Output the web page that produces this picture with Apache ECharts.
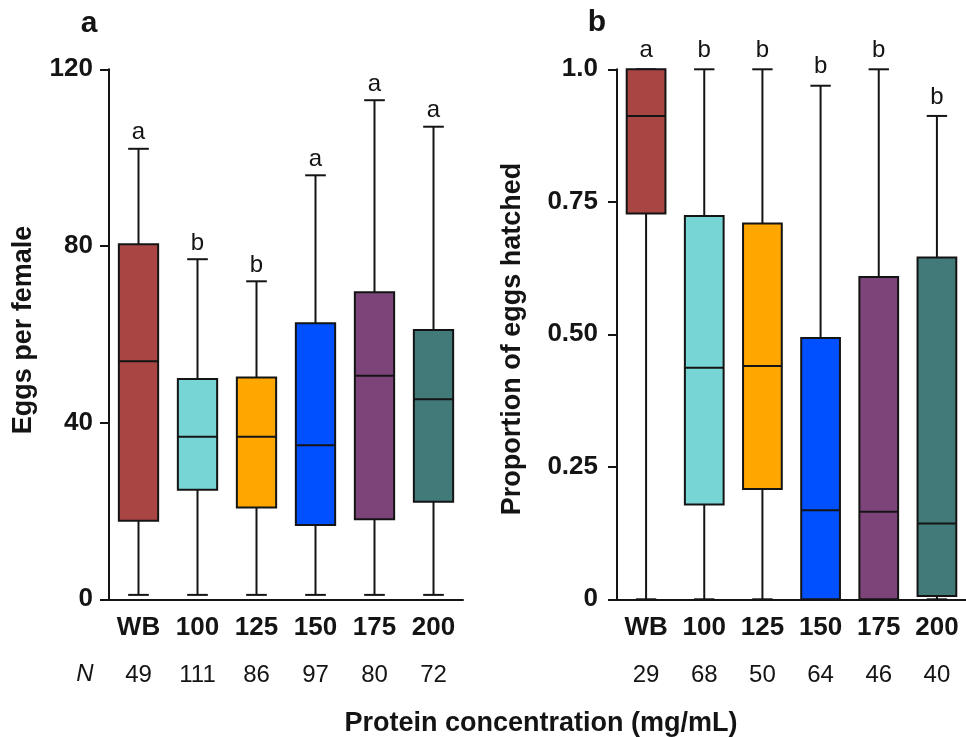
<!DOCTYPE html>
<html lang="en">
<head>
    <meta charset="UTF-8">
    <title>Eggs per female / proportion hatched</title>
    <script src="https://cdn.jsdelivr.net/npm/echarts@6.0.0/dist/echarts.min.js"></script>
    <style>html,body{margin:0;padding:0;background:#fff;}</style>
</head>
<body>
    <div id="main" style="width: 966px;height: 737px"></div>
    <script type="text/javascript">
        var categories = ['WB', '100', '125', '150', '175', '200'];
        var colors = ['#A94643', '#77D5D5', '#FFA600', '#0050FF', '#7C4478', '#427979'];

        // panel a - eggs per female (min, Q1, median, Q3, max)
        var eggsMin = [1, 1, 1, 1, 1, 1];
        var eggsQ1 = [17.8, 24.8, 20.8, 16.8, 18.1, 22.1];
        var eggsMedian = [53.9, 36.8, 36.8, 34.9, 50.6, 45.3];
        var eggsQ3 = [80.4, 49.9, 50.2, 62.5, 69.5, 61.0];
        var eggsMax = [102, 77, 72, 96, 113, 107];
        var eggsLetters = ['a', 'b', 'b', 'a', 'a', 'a'];
        var eggsN = [49, 111, 86, 97, 80, 72];
        var eggsTicks = ['0', '40', '80', '120'];

        // panel b - proportion of eggs hatched
        var hatchMin = [0, 0, 0, 0, 0, 0];
        var hatchQ1 = [0.728, 0.179, 0.208, 0, 0, 0.006];
        var hatchMedian = [0.912, 0.437, 0.440, 0.168, 0.165, 0.143];
        var hatchQ3 = [1, 0.723, 0.709, 0.493, 0.608, 0.645];
        var hatchMax = [1, 1, 1, 0.969, 1, 0.912];
        var hatchLetters = ['a', 'b', 'b', 'b', 'b', 'b'];
        var hatchN = [29, 68, 50, 64, 46, 40];
        var hatchTicks = ['0', '0.25', '0.50', '0.75', '1.0'];

        var font = 'Liberation Sans, Arial, sans-serif';
        var ink = '#141414';

        function boxData(mn, q1, md, q3, mx) {
            return categories.map(function (c, i) {
                return [i, mn[i], q1[i], md[i], q3[i], mx[i]];
            });
        }

        function makeRender(letters, gap) {
            return function (params, api) {
                var x = api.value(0);
                var pMin = api.coord([x, api.value(1)]);
                var pQ1 = api.coord([x, api.value(2)]);
                var pMed = api.coord([x, api.value(3)]);
                var pQ3 = api.coord([x, api.value(4)]);
                var pMax = api.coord([x, api.value(5)]);
                var band = api.size([1, 0])[0];
                var half = band * 0.333;
                var cap = band * 0.175;
                var cx = pMin[0];
                var ls = {stroke: ink, lineWidth: 2};
                return {
                    type: 'group',
                    children: [
                        {type: 'line', shape: {x1: cx, y1: pMin[1], x2: cx, y2: pQ1[1]}, style: ls},
                        {type: 'line', shape: {x1: cx, y1: pQ3[1], x2: cx, y2: pMax[1]}, style: ls},
                        {type: 'line', shape: {x1: cx - cap, y1: pMin[1], x2: cx + cap, y2: pMin[1]}, style: ls},
                        {type: 'line', shape: {x1: cx - cap, y1: pMax[1], x2: cx + cap, y2: pMax[1]}, style: ls},
                        {type: 'rect', shape: {x: cx - half, y: pQ3[1], width: half * 2, height: pQ1[1] - pQ3[1]},
                            style: {fill: colors[params.dataIndex], stroke: ink, lineWidth: 2}},
                        {type: 'line', shape: {x1: cx - half, y1: pMed[1], x2: cx + half, y2: pMed[1]}, style: ls},
                        {type: 'text', x: cx, y: pMax[1] - gap,
                            style: {text: letters[params.dataIndex], fontSize: 24, fontFamily: font, fill: ink,
                                align: 'center', verticalAlign: 'bottom'}}
                    ]
                };
            };
        }

        function xAxisFor(idx, nList) {
            return {
                gridIndex: idx,
                type: 'category',
                data: categories,
                boundaryGap: true,
                axisLine: {lineStyle: {color: ink, width: 2}},
                axisTick: {alignWithLabel: true, length: 9, lineStyle: {color: ink, width: 2}},
                axisLabel: {
                    margin: 14,
                    formatter: function (v, i) {
                        return '{c|' + v + '}\n{n|' + nList[i] + '}';
                    },
                    rich: {
                        c: {fontSize: 26, fontWeight: 'bold', fontFamily: font, color: ink, lineHeight: 30},
                        n: {fontSize: 24, fontFamily: font, color: ink, lineHeight: 64}
                    }
                }
            };
        }

        option = {
            animation: false,
            grid: [
                {left: 109, top: 69.3, width: 354, height: 530},
                {left: 617, top: 69.3, width: 355, height: 530}
            ],
            xAxis: [xAxisFor(0, eggsN), xAxisFor(1, hatchN)],
            yAxis: [
                {
                    gridIndex: 0, type: 'value', min: 0, max: 120, interval: 40,
                    splitLine: {show: false},
                    axisLine: {show: true, lineStyle: {color: ink, width: 2}},
                    axisTick: {show: true, length: 9, lineStyle: {color: ink, width: 2}},
                    axisLabel: {
                        margin: 16, fontSize: 26, fontWeight: 'bold', fontFamily: font, color: ink,
                        formatter: function (v) { return eggsTicks[Math.round(v / 40)]; }
                    }
                },
                {
                    gridIndex: 1, type: 'value', min: 0, max: 1, interval: 0.25,
                    splitLine: {show: false},
                    axisLine: {show: true, lineStyle: {color: ink, width: 2}},
                    axisTick: {show: true, length: 9, lineStyle: {color: ink, width: 2}},
                    axisLabel: {
                        margin: 19, fontSize: 26, fontWeight: 'bold', fontFamily: font, color: ink,
                        formatter: function (v) { return hatchTicks[Math.round(v / 0.25)]; }
                    }
                }
            ],
            graphic: [
                {type: 'text', x: 89, y: 24, style: {text: 'a', fontSize: 30, fontWeight: 'bold', fontFamily: font, fill: ink,
                    align: 'center', verticalAlign: 'middle'}},
                {type: 'text', x: 597, y: 23, style: {text: 'b', fontSize: 30, fontWeight: 'bold', fontFamily: font, fill: ink,
                    align: 'center', verticalAlign: 'middle'}},
                {type: 'text', x: 24, y: 330, rotation: Math.PI / 2,
                    style: {text: 'Eggs per female', fontSize: 27, fontWeight: 'bold', fontFamily: font, fill: ink,
                        align: 'center', verticalAlign: 'middle'}},
                {type: 'text', x: 513, y: 339, rotation: Math.PI / 2,
                    style: {text: 'Proportion of eggs hatched', fontSize: 27, fontWeight: 'bold', fontFamily: font, fill: ink,
                        align: 'center', verticalAlign: 'middle'}},
                {type: 'text', x: 541, y: 724,
                    style: {text: 'Protein concentration (mg/mL)', fontSize: 27, fontWeight: 'bold', fontFamily: font, fill: ink,
                        align: 'center', verticalAlign: 'middle'}},
                {type: 'text', x: 85, y: 674,
                    style: {text: 'N', fontSize: 24, fontStyle: 'italic', fontFamily: font, fill: ink,
                        align: 'center', verticalAlign: 'middle'}}
            ],
            series: [
                {
                    type: 'custom', xAxisIndex: 0, yAxisIndex: 0, clip: false,
                    renderItem: makeRender(eggsLetters, 4),
                    encode: {x: 0, y: [1, 2, 3, 4, 5]},
                    data: boxData(eggsMin, eggsQ1, eggsMedian, eggsQ3, eggsMax)
                },
                {
                    type: 'custom', xAxisIndex: 1, yAxisIndex: 1, clip: false,
                    renderItem: makeRender(hatchLetters, 7),
                    encode: {x: 0, y: [1, 2, 3, 4, 5]},
                    data: boxData(hatchMin, hatchQ1, hatchMedian, hatchQ3, hatchMax)
                }
            ]
        };

        var myChart = echarts.init(document.getElementById('main'));
        myChart.setOption(option);
    </script>
</body>
</html>
